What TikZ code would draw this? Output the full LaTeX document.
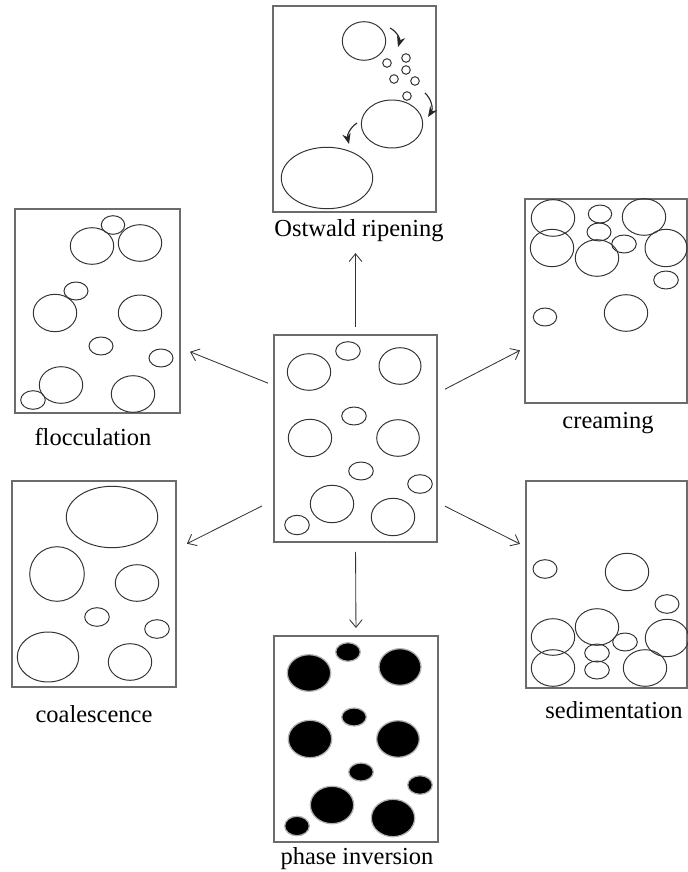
\documentclass[tikz,border=0pt]{standalone}
\usepackage{fontspec}
\setmainfont{Liberation Serif}
\usetikzlibrary{fit,arrows.meta}
\tikzset{
  panel/.style={draw=gray!85!black,line width=1pt,inner sep=0pt,outer sep=0pt},
  drop/.style={draw=black!80,line width=0.7pt},
  inkdrop/.style={fill=black,draw=gray!60,line width=0.9pt},
  caption/.style={anchor=base,inner sep=0pt,font=\fontsize{17.4}{20}\selectfont},
  link/.style={draw=black!80,line width=0.6pt,-{Straight Barb[length=5.5pt,width=9pt]}},
  swirl/.style={draw=black!85,line width=0.8pt,-{Stealth[length=7.5pt,width=6pt]}}
}
\begin{document}
\begin{tikzpicture}[x=0.025cm,y=0.025cm]
  \useasboundingbox (0,0) rectangle (688,-872);
  % the six outcomes round the starting emulsion
  \node[panel,fit={(274,-335) (437,-542)}] (c) {};
  \node[panel,fit={(273,-6) (436,-212)}] (obox) {};
  \node[panel,fit={(15,-209) (180,-413)}] (fbox) {};
  \node[panel,fit={(525,-199) (687,-403)}] (crbox) {};
  \node[panel,fit={(12,-481) (176,-687)}] (cobox) {};
  \node[panel,fit={(526,-481) (687,-688)}] (sebox) {};
  \node[panel,fit={(274,-636) (438,-842)}] (pbox) {};

  \node[caption] (olab) at (359,-237) {Ostwald ripening};
  \node[caption] (flab) at (93,-445) {flocculation};
  \node[caption] (crlab) at (608,-428) {creaming};
  \node[caption] (colab) at (94,-722) {coalescence};
  \node[caption] (selab) at (614,-718) {sedimentation};
  \node[caption] (plab) at (357,-864) {phase inversion};

  % starting emulsion
  \foreach \px/\py/\rx/\ry in {309/372/21.7/18.3, 348/351/12.3/9.3, 400/366/21/18.3,
      354/416/12.3/9, 310/438/21.7/18.7, 398/438/21.3/18.3, 361/471/12.3/9,
      420/484/12.3/9.3, 332/504/21.7/18.7, 393/517/21.7/18.7, 297/525/12.3/9.7}
    \draw[drop] (\px,-\py) ellipse [x radius=\rx,y radius=\ry];
  % phase inversion (same drops, one panel lower)
  \foreach \px/\py/\rx/\ry in {309/372/21.7/18.3, 348/351/12.3/9.3, 400/366/21/18.3,
      354/416/12.3/9, 310/438/21.7/18.7, 398/438/21.3/18.3, 361/471/12.3/9,
      420/484/12.3/9.3, 332/504/21.7/18.7, 393/517/21.7/18.7, 297/525/12.3/9.7}
    \draw[inkdrop] (\px,-\py-301) ellipse [x radius=\rx,y radius=\ry];
  % flocculation
  \foreach \px/\py/\rx/\ry in {92/246/21.7/18.3, 113/225/11.7/9.3, 140/243/21.7/18.3,
      76/291/12/9, 55/313/21.7/18.7, 140/313/21.7/18, 101/346/12/9, 161/358/12/9,
      61/385/21.7/18.3, 133/394/21.7/18.3, 33/400/12.3/9.3}
    \draw[drop] (\px,-\py) ellipse [x radius=\rx,y radius=\ry];
  % creaming
  \foreach \px/\py/\rx/\ry in {553/218/21.7/18.3, 600/214/11.7/9, 644/217/21.7/18.3,
      599/232/12/9, 552/248/21.7/18.7, 597/258/21.7/18.3, 624/244/12.3/9,
      666/248/21/18.7, 666/280/12.3/9, 545/317/11.7/9, 626/313/21.7/18.3}
    \draw[drop] (\px,-\py) ellipse [x radius=\rx,y radius=\ry];
  % coalescence
  \foreach \px/\py/\rx/\ry in {112/517/45.7/30.7, 57/574/27.3/27.3, 137/583/21.7/18.3,
      97/617/12.3/9.3, 157/629/12.3/9.3, 48/657/30.7/25, 130/662/21.7/18.3}
    \draw[drop] (\px,-\py) ellipse [x radius=\rx,y radius=\ry];
  % sedimentation
  \foreach \px/\py/\rx/\ry in {545/569/12/9.3, 627/572/21.7/18.7, 667/604/12/9.3,
      553/637/21.7/18.3, 597/627/21.7/18.3, 625/642/12.3/9, 667/638/21.7/18.7,
      597/653/12.3/9, 553/668/21.7/18.3, 597/670/12.3/9, 645/668/21.7/18.3}
    \draw[drop] (\px,-\py) ellipse [x radius=\rx,y radius=\ry];
  % Ostwald ripening
  \draw[drop] (364,-41) ellipse [x radius=21.7,y radius=19.3];
  \foreach \px/\py in {387/63, 406/58, 406/70, 394/79, 415/81, 407/96}
    \draw[drop] (\px,-\py) circle [radius=4.3];
  \draw[drop] (392,-124) ellipse [x radius=30.7,y radius=24];
  \draw[drop] (327,-178) ellipse [x radius=45.7,y radius=30.7];
  \coordinate (s1) at (390,-28);  \coordinate (t1) at (398,-47);
  \coordinate (s2) at (425,-93);  \coordinate (t2) at (428,-117);
  \coordinate (s3) at (357,-123); \coordinate (t3) at (349,-144);
  \draw[swirl] (s1) to[bend left=40] (t1);
  \draw[swirl] (s2) to[bend left=40] (t2);
  \draw[swirl] (s3) to[bend right=35] (t3);

  % arrows out of the middle panel
  \draw[link,shorten <=5.7pt,shorten >=7.5pt] (c.north) -- (c.north |- olab.south);
  \draw[link,shorten <=4.6pt,shorten >=7.7pt] (c.147.5) -- (fbox.-24);
  \draw[link,shorten <=6.4pt,shorten >=4pt] (c.29) -- (crbox.-150);
  \draw[link,shorten <=9.5pt,shorten >=8.7pt] (c.217.6) -- (cobox.23.5);
  \draw[link,shorten <=6.4pt,shorten >=4.8pt] (c.-38.3) -- (sebox.155.7);
  \draw[link,shorten <=7.1pt,shorten >=5.7pt] (c.south) -- (pbox.north);
\end{tikzpicture}
\end{document}
